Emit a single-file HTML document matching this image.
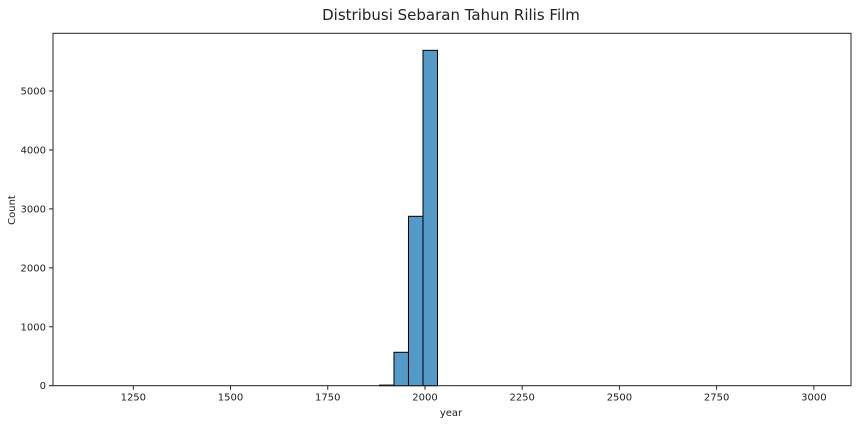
<!DOCTYPE html>
<html><head><meta charset="utf-8"><style>
body{margin:0;background:#fff;font-family:"Liberation Sans","DejaVu Sans",sans-serif}
svg text{font-family:"DejaVu Sans","Liberation Sans",sans-serif}
</style></head><body>
<svg id="c" width="856" height="424">
<text x="451" y="20" font-size="15" text-anchor="middle" fill="#222">Distribusi Sebaran Tahun Rilis Film</text>
<g id="bars"></g><g id="ax"></g>
<rect x="53" y="33.3" width="798" height="352.4" fill="none" stroke="#222" stroke-width="1"/>
<text x="451" y="416" font-size="10" text-anchor="middle" fill="#222">year</text>
<text x="15" y="210" font-size="10" text-anchor="middle" fill="#222" transform="rotate(-90 15 210)">Count</text>
</svg>
<script>
const binStarts=[1883,1920.3,1957.6,1994.9];
const binWidth=37.3;
const counts=[10,567,2874,5690];
const xTicks=[1250,1500,1750,2000,2250,2500,2750,3000];
const yTicks=[0,1000,2000,3000,4000,5000];
const X0=53,X1=851,Y0=385.7,Y1=33.3,xmin=1043.5,xmax=3095.5,ymax=5979;
const sx=v=>X0+(v-xmin)/(xmax-xmin)*(X1-X0);
const sy=v=>Y0-v/ymax*(Y0-Y1);
const NS="http://www.w3.org/2000/svg";
const bars=document.getElementById('bars'),ax=document.getElementById('ax');
function mk(t,a,p){const e=document.createElementNS(NS,t);for(const k in a)e.setAttribute(k,a[k]);p.appendChild(e);return e;}
counts.forEach((c,i)=>{
 const r=mk('rect',{x:sx(binStarts[i]),y:sy(c),width:sx(binStarts[i]+binWidth)-sx(binStarts[i]),height:Y0-sy(c),fill:'#5499c7',stroke:'#000','stroke-width':1},bars);
 
 
});
xTicks.forEach(t=>{
 const x=sx(t);
 const l=mk('line',{x1:x,x2:x,y1:Y0,y2:Y0+4,stroke:'#222'},ax);
 
 
 const tx=mk('text',{x:x,y:Y0+15,'font-size':10,'text-anchor':'middle',fill:'#222'},ax);
 tx.textContent=t;
 
 
});
yTicks.forEach(t=>{
 const y=sy(t);
 const l=mk('line',{x1:X0-4,x2:X0,y1:y,y2:y,stroke:'#222'},ax);
 
 
 const tx=mk('text',{x:X0-7,y:y+3.5,'font-size':10,'text-anchor':'end',fill:'#222'},ax);
 tx.textContent=t;
 
 
});
</script>
</body></html>
